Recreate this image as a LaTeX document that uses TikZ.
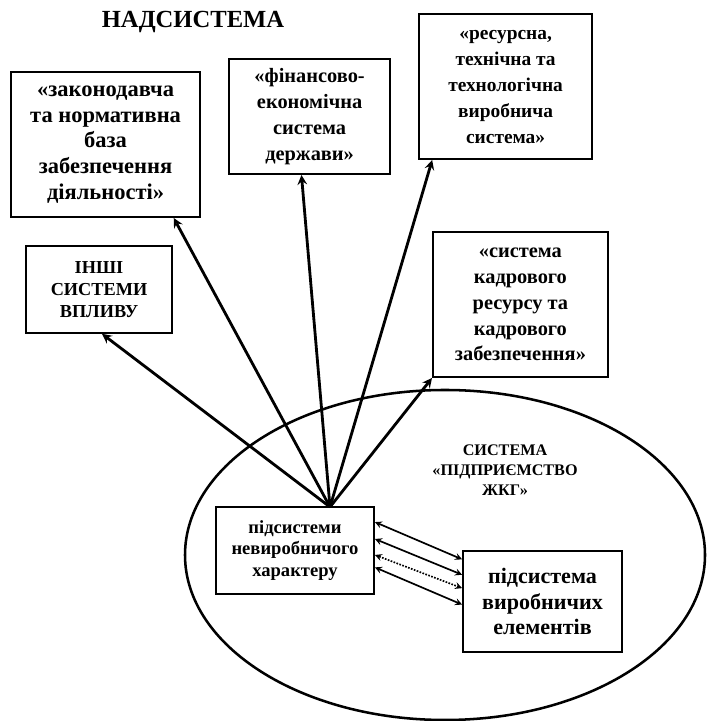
\documentclass[tikz,border=0pt]{standalone}
\usepackage{fontspec}
\setmainfont{Liberation Serif}
\usetikzlibrary{arrows,positioning,calc}

\begin{document}
\begin{tikzpicture}[
    box/.style={rectangle, draw, line width=1.3pt, align=center, fill=white, font=\bfseries\fontsize{14.5}{18.3}\selectfont},
    smallbox/.style={box, font=\bfseries\fontsize{13.2}{15.6}\selectfont},
    arrow/.style={->, >=stealth, line width=2pt},
    link/.style={<->, >=stealth, line width=1.2pt}
]
\useasboundingbox (0,0) rectangle (17.675,18.025);

% Title
\node[font=\bfseries\fontsize{17.5}{20}\selectfont] (title) at (4.825,17.475) {НАДСИСТЕМА};

% Enterprise system
\draw[line width=1.8pt] (11.125,4.15) ellipse (6.5cm and 4.125cm);
\node[font=\bfseries\fontsize{11.5}{14}\selectfont, align=center] (ent) at (12.625,6.275) {СИСТЕМА\\«ПІДПРИЄМСТВО\\ЖКГ»};

% Supersystem boxes
\node[box, font=\bfseries\fontsize{16}{18.3}\selectfont, minimum width=4.725cm, minimum height=3.625cm] (law) at (2.64,14.41) {
    «законодавча\\та нормативна\\база\\забезпечення\\діяльності»};

\node[box, minimum width=4.025cm, minimum height=2.875cm] (fin) at (7.74,15.11) {
    «фінансово-\\економічна\\система\\держави»};

\node[box, font=\bfseries\fontsize{13.8}{18.5}\selectfont, minimum width=4.325cm, minimum height=3.625cm] (res) at (12.64,15.86) {
    «ресурсна,\\технічна та\\технологічна\\виробнича\\система»};

\node[smallbox, font=\bfseries\fontsize{13}{15.6}\selectfont, minimum width=3.65cm, minimum height=2.175cm] (other) at (2.475,10.79) {
    ІНШІ\\СИСТЕМИ\\ВПЛИВУ};

\node[box, minimum width=4.375cm, minimum height=3.625cm] (staff) at (13.01,10.41) {
    «система\\кадрового\\ресурсу та\\кадрового\\забезпечення»};

% Subsystems
\node[smallbox, minimum width=3.95cm, minimum height=2.175cm] (nonprod) at (7.375,4.2625) {
    підсистеми\\невиробничого\\характеру};

\node[box, font=\bfseries\fontsize{15.7}{18}\selectfont, minimum width=3.975cm, minimum height=2.525cm] (prod) at (13.5625,2.9875) {
    підсистема\\виробничих\\елементів};

% Arrows
\coordinate (hub) at (8.25,5.35);
\draw[arrow] (hub) -- ($(law.south west)!0.857!(law.south east)$);
\draw[arrow] (hub) -- ($(fin.south west)!0.45!(fin.south east)$);
\draw[arrow] (hub) -- ($(res.south west)!0.08!(res.south east)$);
\draw[arrow] (hub) -- ($(other.south west)!0.52!(other.south east)$);
\draw[arrow] (hub) -- (staff.south west);

\foreach \a/\b/\s in {0.18/0.09/solid, 0.37/0.24/solid, 0.55/0.37/densely dotted, 0.69/0.53/solid}
    \draw[link, \s] ($(nonprod.north east)!\a!(nonprod.south east)$) -- ($(prod.north west)!\b!(prod.south west)$);

\end{tikzpicture}
\end{document}
